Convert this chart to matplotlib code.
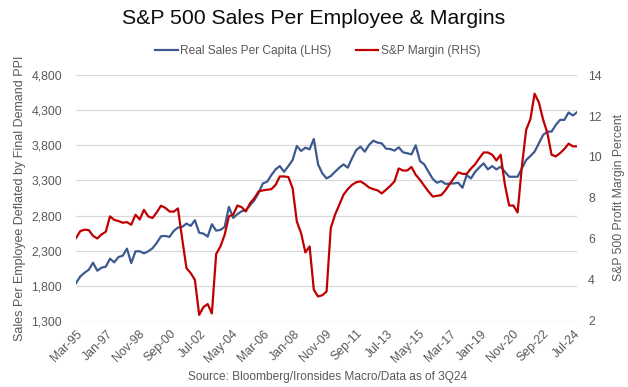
import numpy as np
import pandas as pd
import matplotlib
matplotlib.use("Agg")
import matplotlib.pyplot as plt
import matplotlib.dates as mdates

# quarterly data, Mar-95 .. Sep-24
dates = pd.date_range("1995-03-01", periods=119, freq="3MS")

sales_per_capita = [
    1837, 1932, 1985, 2028, 2128, 2014, 2057, 2071, 2185, 2133,
    2209, 2228, 2328, 2123, 2290, 2290, 2261, 2290, 2333, 2409,
    2504, 2509, 2495, 2580, 2628, 2638, 2685, 2652, 2733, 2555,
    2542, 2500, 2676, 2585, 2595, 2638, 2923, 2766, 2819, 2861,
    2876, 2947, 3019, 3123, 3257, 3281, 3376, 3457, 3504, 3423,
    3504, 3590, 3790, 3719, 3766, 3743, 3890, 3528, 3400, 3328,
    3362, 3423, 3481, 3528, 3481, 3614, 3733, 3781, 3709, 3805,
    3866, 3838, 3828, 3752, 3747, 3724, 3771, 3700, 3686, 3671,
    3800, 3576, 3528, 3423, 3323, 3266, 3290, 3250, 3255, 3257,
    3266, 3195, 3376, 3328, 3423, 3486, 3543, 3457, 3504, 3457,
    3495, 3423, 3352, 3352, 3352, 3471, 3590, 3647, 3709, 3828,
    3947, 3995, 3995, 4090, 4162, 4162, 4267, 4224, 4271,
]

sp_margin = [
    6.04, 6.38, 6.45, 6.43, 6.15, 6.02, 6.22, 6.35, 7.10, 6.93,
    6.87, 6.79, 6.82, 6.69, 7.18, 6.95, 7.42, 7.10, 7.02, 7.29,
    7.62, 7.52, 7.34, 7.33, 7.49, 6.00, 4.57, 4.33, 4.00, 2.29,
    2.67, 2.82, 2.36, 5.26, 5.63, 6.20, 7.10, 7.18, 7.63, 7.55,
    7.34, 7.75, 7.99, 8.32, 8.37, 8.40, 8.43, 8.64, 9.05, 9.05,
    9.02, 8.48, 6.85, 6.28, 5.34, 5.63, 3.52, 3.19, 3.25, 3.43,
    6.53, 7.18, 7.67, 8.16, 8.43, 8.64, 8.77, 8.81, 8.68, 8.51,
    8.43, 8.37, 8.22, 8.40, 8.59, 8.81, 9.44, 9.34, 9.34, 9.51,
    9.13, 8.89, 8.59, 8.32, 8.07, 8.10, 8.14, 8.38, 8.68, 8.97,
    9.25, 9.18, 9.17, 9.43, 9.65, 9.95, 10.22, 10.22, 10.11, 9.83,
    10.11, 8.64, 7.63, 7.63, 7.29, 9.54, 11.33, 11.85, 13.09, 12.67,
    11.82, 11.17, 10.11, 10.03, 10.19, 10.39, 10.65, 10.52, 10.52,
]

left_ticks = [1300, 1800, 2300, 2800, 3300, 3800, 4300, 4800]
right_ticks = [2, 4, 6, 8, 10, 12, 14]
x_ticks = pd.date_range("1995-03-01", periods=17, freq="22MS")

plt.rcParams["font.family"] = ["Liberation Sans", "DejaVu Sans"]
grey = "#595959"
blue = "#3C5A91"
red = "#C00000"

fig = plt.figure(figsize=(6.28, 3.87), dpi=100)
ax = fig.add_axes([0.121, 0.171, 0.798, 0.635])
ax2 = ax.twinx()

l1, = ax.plot(dates, sales_per_capita, color=blue, lw=1.6, label="Real Sales Per Capita (LHS)")
l2, = ax2.plot(dates, sp_margin, color=red, lw=1.6, label="S&P Margin (RHS)")

ax.set_ylim(1300, 4800)
ax.set_yticks(left_ticks)
ax.set_yticklabels([f"{v:,}" for v in left_ticks])
ax2.set_ylim(2, 14)
ax2.set_yticks(right_ticks)
ax.set_xlim(dates[0], dates[-1])
ax.set_xticks(x_ticks)
ax.set_xticklabels([d.strftime("%b-%y") for d in x_ticks], rotation=45,
                   ha="right", rotation_mode="anchor")

ax.grid(axis="y", color="#D9D9D9", lw=0.9)
ax.set_axisbelow(True)
for a in (ax, ax2):
    for s in a.spines.values():
        s.set_visible(False)
    a.tick_params(length=0, colors=grey, labelsize=8.8)
ax.tick_params(axis="x", pad=5)
ax.tick_params(axis="y", pad=10)
ax2.tick_params(axis="y", pad=8)

ax.set_ylabel("Sales Per Employee Deflated by Final Demand PPI", color=grey, fontsize=9, labelpad=4)
ax2.set_ylabel("S&P 500 Profit Margin Percent", color=grey, fontsize=8.8, labelpad=8)

fig.text(0.5, 0.953, "S&P 500 Sales Per Employee & Margins", ha="center", va="center",
         fontsize=15.3, color="#0D0D0D")
fig.legend(handles=[l1, l2], loc="center", bbox_to_anchor=(0.506, 0.869), ncol=2,
           frameon=False, fontsize=8.6, labelcolor=grey, handlelength=1.9,
           handletextpad=0.2, columnspacing=2.0)
fig.text(0.521, 0.025, "Source: Bloomberg/Ironsides Macro/Data as of 3Q24", ha="center",
         va="center", fontsize=8.6, color=grey)

fig.savefig("out.png", dpi=100)
